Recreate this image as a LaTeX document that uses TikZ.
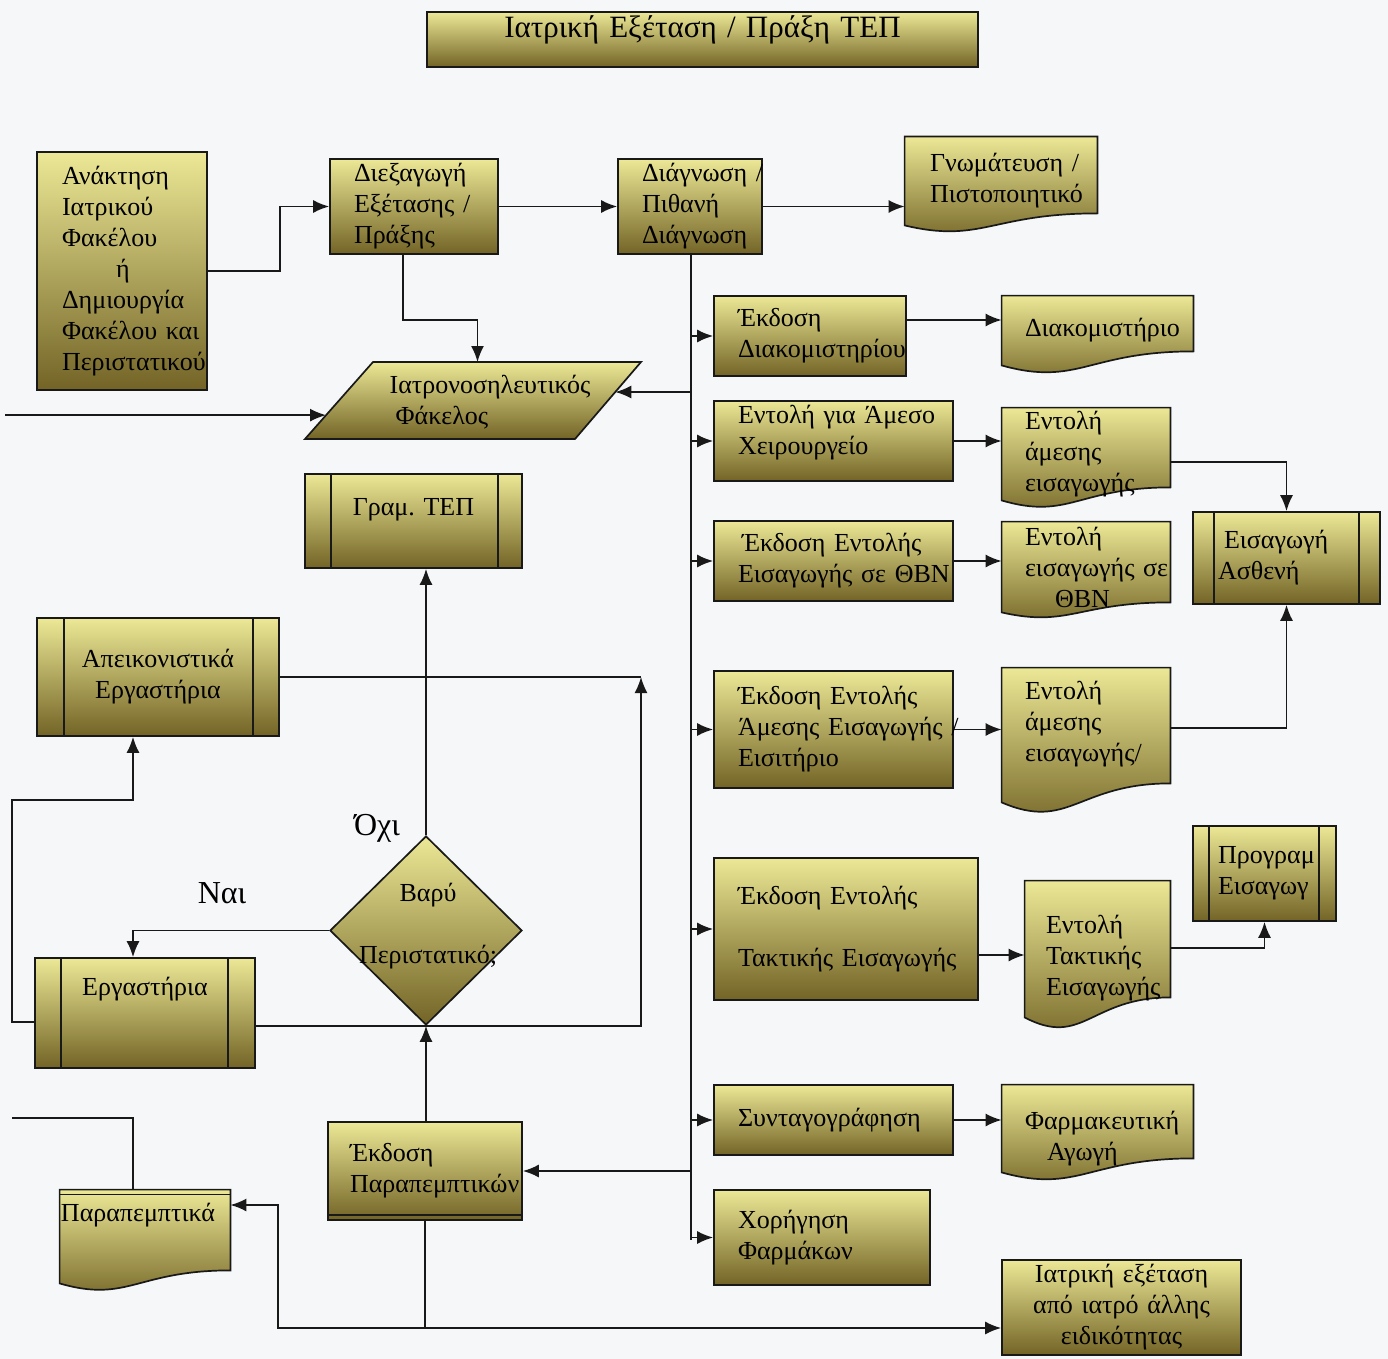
\documentclass[tikz,border=0pt]{standalone}
\usepackage{fontspec}
\setmainfont{Liberation Serif}
\usetikzlibrary{arrows.meta,calc,shapes.geometric}
\pgfdeclarelayer{bg}
\pgfsetlayers{bg,main}
\definecolor{ytop}{RGB}{236,232,150}
\definecolor{ybot}{RGB}{115,100,38}
\definecolor{linec}{RGB}{25,25,25}
\definecolor{paper}{RGB}{246,247,249}
\newcommand\bodyfont{\fontsize{13}{15.5}\selectfont\hyphenpenalty=10000\relax}
\newcommand\titlefont{\fontsize{15.5}{19}\selectfont\hyphenpenalty=10000\relax}
\newcommand\labfont{\fontsize{16}{19}\selectfont}
\newcommand\upby[1]{\\[\dimexpr #1pt*2+3.5pt-\baselineskip\relax]\mbox{}}
\newcommand\dnby[1]{\mbox{}\\[\dimexpr #1pt*2+9.5pt-\baselineskip\relax]}
% box macro: style, name, x1, y1, x2, y2 (px), text offset (px), text
\newcommand\bx[8]{%
  \pgfmathsetmacro\bxtw{(#5-#3-2*#7)*0.5}%
  \pgfmathsetmacro\bxhh{(#6-#4)*0.5}%
  \pgfmathsetmacro\bxxo{#7*0.5}%
  \node[#1, text width=\bxtw pt, inner xsep=\bxxo pt, minimum height=\bxhh pt] (#2) at ({(#3+#5)/2},{(#4+#6)/2}) {#8};}
\newcommand\docshape[2]{%
  \shadedraw[draw=linec, line width=0.85pt, top color=ytop, bottom color=ybot]
    (#1.north west) -- (#1.north east) -- ($(#1.south east)+(0,-#2)$)
    .. controls ($(#1.south west)!0.45!(#1.south east)+(0,-#2)$) and ($(#1.south west)!0.4!(#1.south east)+(0,1.53*#2)$) .. (#1.south west) -- cycle;}
\newcommand\ppl[3]{%
  \draw[draw=linec, line width=0.85pt] ($(#1.north west)+(#2,0)$) -- ($(#1.south west)+(#2,0)$)
    ($(#1.north east)+(-#3,0)$) -- ($(#1.south east)+(-#3,0)$);}
\begin{document}
\begin{tikzpicture}[x=0.5pt,y=-0.5pt,
  box/.style={draw=linec, line width=0.85pt, top color=ytop, bottom color=ybot, inner ysep=0pt, align=left, font=\bodyfont},
  doc/.style={inner ysep=0pt, align=left, font=\bodyfont},
  arr/.style={draw=linec, line width=0.85pt, -{Latex[length=8pt,width=6.5pt]}},
  ln/.style={draw=linec, line width=0.85pt},
  lab/.style={font=\labfont, inner sep=0pt}]
\begin{pgfonlayer}{bg}
\fill[paper] (0,0) rectangle (1388,1359);
\end{pgfonlayer}
\useasboundingbox (0,0) rectangle (1388,1359);

% title
\bx{box,align=center,font=\titlefont,line width=1.3pt}{title}{427}{12}{978}{67}{8}{Ιατρική~Εξέταση~/~Πράξη~ΤΕΠ\upby{4.5}}

% top row
\bx{box}{A}{37}{152}{207}{390}{25}{Ανάκτηση\\Ιατρικού\\Φακέλου\\\hspace*{27pt}ή\\Δημιουργία\\Φακέλου~και\\Περιστατικού}
\bx{box}{B}{330}{159}{498}{254}{24}{Διεξαγωγή\\Εξέτασης~/\\Πράξης}
\bx{box}{C}{618}{159}{762}{254}{24}{Διάγνωση~/\\Πιθανή\\Διάγνωση}
\bx{doc}{D}{905}{137}{1097}{225}{25}{Γνωμάτευση~/\\Πιστοποιητικό}

% right column
\bx{box}{ekdiak}{714}{296}{906}{376}{24}{Έκδοση\\Διακομιστηρίου}
\bx{doc}{diak}{1002}{296}{1193}{365}{23}{Διακομιστήριο}
\bx{box}{xeir}{714}{401}{953}{481}{24}{Εντολή~για~Άμεσο\\Χειρουργείο\upby{4}}
\bx{doc}{entA}{1002}{408}{1170}{500}{23}{Εντολή\\άμεσης\\εισαγωγής}
\bx{box}{thbn}{714}{521}{953}{601}{24}{\hspace*{2pt}Έκδοση~Εντολής\\Εισαγωγής~σε~ΘΒΝ}
\bx{doc}{entB}{1002}{522}{1170}{612}{23}{Εντολή\\εισαγωγής~σε\\\hspace*{15pt}ΘΒΝ}
\bx{box}{eisag}{1193}{512}{1380}{604}{25}{\hspace*{3pt}Εισαγωγή\\Ασθενή}
\bx{box}{amesi}{714}{671}{953}{788}{24}{Έκδοση~Εντολής\\Άμεσης~Εισαγωγής~/\\Εισιτήριο}
\bx{doc}{entC}{1002}{668}{1170}{802}{23}{Εντολή\\άμεσης\\εισαγωγής/\upby{5}}
\bx{box}{takt}{714}{858}{978}{1000}{24}{Έκδοση~Εντολής\\[15.5pt]Τακτικής~Εισαγωγής}
\bx{doc}{entD}{1025}{881}{1170}{1017}{21}{\dnby{4.5}Εντολή\\Τακτικής\\Εισαγωγής}
\bx{box}{progr}{1193}{826}{1336}{921}{25}{Προγραμ\\Εισαγωγ}
\bx{box}{synt}{714}{1085}{953}{1155}{24}{Συνταγογράφηση}
\bx{doc}{farm}{1002}{1085}{1193}{1172}{23}{\dnby{5}Φαρμακευτική\\\hspace*{11pt}Αγωγή}
\bx{box}{xor}{714}{1190}{930}{1285}{24}{Χορήγηση\\Φαρμάκων}
\bx{box,align=center}{iatr}{1002}{1260}{1241}{1355}{10}{Ιατρική~εξέταση\\από~ιατρό~άλλης\\ειδικότητας}

% left part
\bx{box,align=center}{gram}{305}{474}{522}{568}{20}{Γραμ.~ΤΕΠ\upby{5.5}}
\bx{box,align=center}{apei}{37}{618}{279}{736}{20}{Απεικονιστικά\\Εργαστήρια}
\bx{box,align=center}{lab}{35}{958}{255}{1068}{20}{Εργαστήρια\upby{11.5}}
\bx{box}{ekpar}{328}{1122}{522}{1220}{22}{Έκδοση\\Παραπεμπτικών}
\bx{doc}{parap}{60}{1190}{230}{1283}{1}{Παραπεμπτικά\upby{10.5}}

% decision
\node[diamond, draw=linec, line width=0.85pt, top color=ytop, bottom color=ybot,
      minimum width=96pt, minimum height=94.5pt, inner sep=0pt] (dia) at (426,930.5) {};
\node[font=\bodyfont, align=center, inner sep=0pt] (diat) at (428,926) {Βαρύ\\[15.5pt]Περιστατικό;};
\node[lab] (nai) at (222,893) {Ναι};
\node[lab] (oxi) at (377,828) {Όχι};

% parallelogram
\coordinate (fTL) at (373,362);
\coordinate (fTR) at (641,362);
\coordinate (fBR) at (575,439);
\coordinate (fBL) at (305,439);
\shadedraw[draw=linec, line width=0.85pt, top color=ytop, bottom color=ybot] (fBL) -- (fTL) -- (fTR) -- (fBR) -- cycle;
\node[font=\bodyfont, align=left, inner sep=0pt] (fak) at (490,402) {Ιατρονοσηλευτικός\\\hspace*{3pt}Φάκελος};

% document shapes and predefined-process bars
\begin{pgfonlayer}{bg}
\docshape{D}{12}
\docshape{diak}{14}
\docshape{entA}{13}
\docshape{entB}{10}
\docshape{entC}{19}
\docshape{entD}{20}
\docshape{farm}{14}
\docshape{parap}{13}
\end{pgfonlayer}
\ppl{gram}{27}{25}
\ppl{apei}{28}{27}
\ppl{lab}{27}{28}
\ppl{eisag}{22}{22}
\ppl{progr}{17}{18}
\draw[ln] ($(ekpar.south west)+(0,-6)$) -- ($(ekpar.south east)+(0,-6)$);
\draw[ln] ($(parap.north west)+(0,5)$) -- ($(parap.north east)+(0,5)$);

% connectors: top
\coordinate (j1) at (280,0);
\draw[arr] (A.east) -- (A.east -| j1) |- (B.west);
\draw[arr] (B.east) -- (C.west);
\draw[arr] (C.east) -- (C.east -| D.west);
\coordinate (j2) at (403,320);
\coordinate (fakT) at ($(fTL)!0.39!(fTR)$);
\draw[arr] (B.south -| j2) -- (j2) -| (fakT);

% trunk
\coordinate (tend) at (691,1240);
\draw[ln] (C.south -| tend) -- (tend);
\coordinate (fakR) at ($(fBR)!0.61!(fTR)$);
\draw[arr] (fakR -| tend) -- (fakR);
\draw[arr] (ekdiak.west -| tend) -- (ekdiak.west);
\draw[arr] (xeir.west -| tend) -- (xeir.west);
\draw[arr] (thbn.west -| tend) -- (thbn.west);
\draw[arr] (amesi.west -| tend) -- (amesi.west);
\draw[arr] (takt.west -| tend) -- (takt.west);
\draw[arr] (synt.west -| tend) -- (synt.west);
\draw[arr] (xor.west -| tend) -- (xor.west);
\draw[arr] (ekpar.east -| tend) -- (ekpar.east);

% right column connectors
\coordinate (r1) at (0,320);
\draw[arr] (ekdiak.east |- r1) -- (diak.west |- r1);
\draw[arr] (xeir.east) -- (xeir.east -| entA.west);
\coordinate (r2) at (0,462);
\draw[arr] (entA.east |- r2) -| (eisag.north);
\draw[arr] (thbn.east) -- (thbn.east -| entB.west);
\draw[arr] (amesi.east) -- (amesi.east -| entC.west);
\coordinate (r3) at (0,728);
\draw[arr] (entC.east |- r3) -| (eisag.south);
\coordinate (r4) at (0,955);
\draw[arr] (takt.east |- r4) -- (entD.west |- r4);
\coordinate (r5) at (0,948);
\draw[arr] (entD.east |- r5) -| (progr.south);
\draw[arr] (synt.east) -- (synt.east -| farm.west);

% left connectors
\coordinate (lin) at (5,0);
\coordinate (fakL) at ($(fBL)!0.31!(fTL)$);
\draw[arr] (lin |- fakL) -- (fakL);
\draw[arr] (dia.north) -- (dia.north |- gram.south);
\coordinate (j3) at (133,0);
\draw[arr] (dia.west) -| (j3 |- lab.north);
\draw[arr] (ekpar.north -| dia.south) -- (dia.south);
\coordinate (j4) at (641,0);
\draw[arr] (lab.east |- dia.south) -- (dia.south -| j4) -- (j4 |- apei.east);
\draw[ln] (apei.east) -- (apei.east -| j4);
\coordinate (r7) at (0,1022);
\coordinate (j5) at (12,800);
\draw[arr] (lab.west |- r7) -| (j5) -| (j3 |- apei.south);
\coordinate (j6) at (12,1118);
\draw[ln] (j6) -| (j3 |- parap.north);
\coordinate (j7) at (0,1328);
\draw[ln] (ekpar.south) -- (ekpar.south |- j7);
\draw[arr] (ekpar.south |- j7) -- (j7 -| iatr.west);
\coordinate (j8) at (278,1205);
\draw[arr] (ekpar.south |- j7) -| (j8) -- (j8 -| parap.east);
\end{tikzpicture}
\end{document}
